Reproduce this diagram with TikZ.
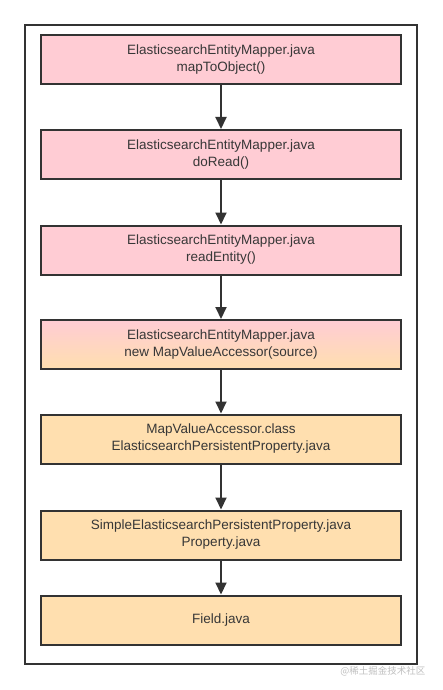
\documentclass[tikz,border=0pt]{standalone}
\usepackage{fontspec}
\setmainfont{Liberation Sans}
\newfontfamily\cjk{Noto Sans CJK SC}
\usetikzlibrary{arrows.meta}
\definecolor{pinkfill}{RGB}{255,204,212}
\definecolor{orangefill}{RGB}{255,223,175}
\definecolor{linecol}{RGB}{51,51,51}
\definecolor{textcol}{RGB}{55,55,55}
\tikzset{
  stepbox/.style={draw=linecol, line width=2pt, minimum width=360pt, minimum height=49pt, inner sep=0pt, align=center, font=\fontsize{13.5}{17}\selectfont, text=textcol},
  pinkbox/.style={stepbox, fill=pinkfill},
  orangebox/.style={stepbox, fill=orangefill},
  mixbox/.style={stepbox, top color=pinkfill, bottom color=orangefill},
  flow/.style={draw=linecol, line width=2pt, -{Triangle[length=12pt,width=11pt]}}
}
\begin{document}
\begin{tikzpicture}[x=1pt,y=-1pt]
\useasboundingbox (0,0) rectangle (442,690);
\draw[linecol, line width=2pt] (25,25) rectangle (417,664);
\node[pinkbox] (a) at (221,59.5) {ElasticsearchEntityMapper.java\\mapToObject()};
\node[pinkbox] (b) at (221,154.5) {ElasticsearchEntityMapper.java\\doRead()};
\node[pinkbox] (c) at (221,250) {ElasticsearchEntityMapper.java\\readEntity()};
\node[mixbox] (d) at (221,344.5) {ElasticsearchEntityMapper.java\\new MapValueAccessor(source)};
\node[orangebox] (e) at (221,439) {MapValueAccessor.class\\ElasticsearchPersistentProperty.java};
\node[orangebox] (f) at (221,535) {SimpleElasticsearchPersistentProperty.java\\Property.java};
\node[orangebox] (g) at (221,620) {Field.java};
\draw[flow] (a) -- (b);
\draw[flow] (b) -- (c);
\draw[flow] (c) -- (d);
\draw[flow] (d) -- (e);
\draw[flow] (e) -- (f);
\draw[flow] (f) -- (g);
\node[text=black!25, font=\cjk\fontsize{9.5}{10}\selectfont, anchor=east] (wm) at (429,671) {@稀土掘金技术社区};
\end{tikzpicture}
\end{document}
